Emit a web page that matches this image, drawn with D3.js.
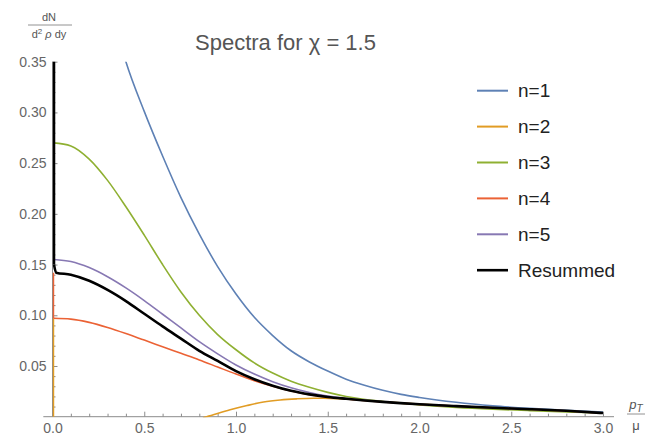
<!DOCTYPE html>
<html><head><meta charset="utf-8">
<script src="https://cdn.jsdelivr.net/npm/d3@7"></script>
<style>
html,body{margin:0;padding:0;background:#fff;}
svg{display:block;font-family:"Liberation Sans",Arial,sans-serif;}
</style></head>
<body><svg id="c" width="646" height="437"></svg>
<script>
// ---- data ----
const title = "Spectra for \u03C7 = 1.5";
const seriesNames = ["n=1","n=2","n=3","n=4","n=5","Resummed"];
const seriesColors = ["#5E81B5","#E19C24","#8FB032","#EB6235","#8778B3","#000000"];

const n1X = [0.38,0.4,0.5,0.6,0.7,0.8,0.9,1.0,1.1,1.2,1.3,1.4,1.5,1.6,1.7,1.8,1.9,2.0,2.2,2.4,2.6,2.8,3.0];
const n1Y = [0.362,0.35,0.301,0.257,0.216,0.180,0.148,0.121,0.098,0.080,0.065,0.054,0.045,0.037,0.031,0.026,0.022,0.019,0.0142,0.0107,0.0082,0.0062,0.0045];

const n2X = [0.005,0.005,null,0.82,0.84,0.968,1.06,1.15,1.241,1.33,1.423,1.51,1.605,1.7,1.787,2.0,2.25,2.5,2.75,3.0];
const n2Y = [0.0,0.097,null,-0.001,0.0,0.0068,0.011,0.0145,0.0165,0.0176,0.0182,0.0181,0.0175,0.0162,0.0150,0.0124,0.0101,0.0082,0.006,0.0038];

const n3X = [0.005,0.1,0.2,0.3,0.4,0.5,0.6,0.7,0.8,0.9,1.0,1.1,1.2,1.3,1.4,1.5,1.6,1.8,2.0,2.2,2.4,2.6,2.8,3.0];
const n3Y = [0.270,0.267,0.254,0.233,0.207,0.179,0.150,0.123,0.100,0.081,0.066,0.053,0.043,0.035,0.029,0.024,0.020,0.0150,0.0117,0.0092,0.0074,0.006,0.0047,0.0036];

const n4X = [0.005,0.005,0.1,0.2,0.3,0.4,0.5,0.6,0.7,0.8,0.9,1.0,1.1,1.2,1.3,1.4,1.5,1.6,1.8,2.0,2.2,2.4,2.6,2.8,3.0];
const n4Y = [0.142,0.097,0.0962,0.093,0.088,0.082,0.0755,0.069,0.0625,0.056,0.049,0.042,0.0355,0.030,0.0253,0.0217,0.0193,0.0175,0.0145,0.0121,0.0103,0.0087,0.0073,0.0057,0.0035];

const n5X = [0.008,0.1,0.2,0.3,0.4,0.5,0.6,0.7,0.8,0.9,1.0,1.1,1.2,1.3,1.4,1.5,1.6,1.8,2.0,2.2,2.4,2.6,2.8,3.0];
const n5Y = [0.155,0.153,0.147,0.138,0.127,0.1145,0.101,0.0875,0.074,0.062,0.051,0.042,0.0345,0.0285,0.0238,0.0203,0.0179,0.0147,0.0123,0.0104,0.0088,0.0074,0.0058,0.0036];

const resX = [0.008,0.008,0.02,0.1,0.2,0.3,0.4,0.5,0.6,0.7,0.8,0.9,1.0,1.1,1.2,1.3,1.4,1.5,1.6,1.8,2.0,2.2,2.4,2.6,2.8,3.0];
const resY = [0.36,0.150,0.142,0.140,0.134,0.125,0.114,0.1015,0.089,0.077,0.065,0.055,0.045,0.037,0.0305,0.0255,0.022,0.0195,0.0177,0.0146,0.0122,0.0104,0.0088,0.0074,0.0058,0.0036];

const xTickValues = [0,0.5,1,1.5,2,2.5,3];
const xTickLabels = ["0.0","0.5","1.0","1.5","2.0","2.5","3.0"];
const yTickValues = [0.05,0.10,0.15,0.20,0.25,0.30,0.35];
const yTickLabels = ["0.05","0.10","0.15","0.20","0.25","0.30","0.35"];

// ---- drawing ----
const svg = d3.select("#c");
const x = d3.scaleLinear().domain([0,3]).range([52.5,603]);
const y = d3.scaleLinear().domain([0,0.35]).range([416.7,61.7]);
const axisCol = "#8c8c8c", labCol = "#666";

svg.append("clipPath").attr("id","clip").append("rect")
  .attr("x", x(0)).attr("y", y(0.35)).attr("width", x(3.06)-x(0)).attr("height", y(0)-y(0.35)+0.5);

const xMinor = d3.range(0,3.0001,0.1).filter(v=>Math.abs(v*2-Math.round(v*2))>1e-6);
const yMinor = d3.range(0.01,0.3501,0.01).filter(v=>Math.abs(v*20-Math.round(v*20))>1e-6);

const gx = svg.append("g").attr("transform",`translate(0,${y(0)})`);
gx.call(d3.axisBottom(x).tickValues(xMinor).tickSize(-3).tickFormat(""));
gx.select(".domain").remove();
const gx2 = svg.append("g").attr("transform",`translate(0,${y(0)})`);
gx2.call(d3.axisBottom(x).tickValues(xTickValues).tickSize(-5).tickPadding(6)
  .tickFormat((d,i)=>xTickLabels[i]));
gx2.select(".domain").remove();
svg.append("line").attr("x1",x(-0.05)).attr("x2",x(3.06)).attr("y1",y(0)).attr("y2",y(0))
  .attr("stroke",axisCol).attr("stroke-width",1);

const gy = svg.append("g").attr("transform",`translate(${x(0)},0)`);
gy.call(d3.axisLeft(y).tickValues(yMinor).tickSize(-3).tickFormat(""));
gy.select(".domain").remove();
const gy2 = svg.append("g").attr("transform",`translate(${x(0)},0)`);
gy2.call(d3.axisLeft(y).tickValues(yTickValues).tickSize(-5).tickPadding(6)
  .tickFormat((d,i)=>yTickLabels[i]));
gy2.select(".domain").remove();
svg.append("line").attr("x1",x(0)).attr("x2",x(0)).attr("y1",y(0)).attr("y2",y(0.35))
  .attr("stroke",axisCol).attr("stroke-width",1);

svg.selectAll(".tick line").attr("stroke",axisCol);
svg.selectAll(".tick text").attr("fill",labCol).attr("font-size",14)
  .attr("font-family","'Liberation Sans',Arial,sans-serif");

// lines
const series = [[n1X,n1Y],[n2X,n2Y],[n3X,n3Y],[n4X,n4Y],[n5X,n5Y],[resX,resY]];
const smooth = d3.line().x(d=>x(d[0])).y(d=>y(d[1])).curve(d3.curveMonotoneX);
const straight = d3.line().x(d=>x(d[0])).y(d=>y(d[1]));
const plot = svg.append("g").attr("clip-path","url(#clip)");
[1,0,2,3,4,5].forEach(i=>{
  const [xs,ys] = series[i];
  const sw = i===5?2.6:1.6;
  let segs=[], cur=[];
  xs.forEach((v,k)=>{ if(v===null){ if(cur.length) segs.push(cur); cur=[]; } else cur.push([v,ys[k]]); });
  if(cur.length) segs.push(cur);
  segs.forEach(s=>{
    let k=0; while(k+1<s.length && s[k+1][0]===s[0][0]) k++;
    if(k>0) plot.append("path").attr("d",straight(s.slice(0,k+1)))
      .attr("fill","none").attr("stroke",seriesColors[i]).attr("stroke-width",sw);
    const rest = s.slice(k);
    if(rest.length>1) plot.append("path").attr("d",smooth(rest))
      .attr("fill","none").attr("stroke",seriesColors[i]).attr("stroke-width",sw)
      .attr("stroke-linejoin","round");
  });
});

// title
svg.append("text").attr("x",285.5).attr("y",50).attr("text-anchor","middle")
  .attr("font-size",22).attr("fill","#555").text(title);

// y label (fraction)
const yl = svg.append("g").attr("fill","#555").attr("font-size",11);
yl.append("text").attr("x",49).attr("y",21).attr("text-anchor","middle").text("dN");
yl.append("line").attr("x1",28).attr("x2",72).attr("y1",25).attr("y2",25).attr("stroke","#777").attr("stroke-width",0.8);
const yb = yl.append("text").attr("x",49).attr("y",38).attr("text-anchor","middle");
yb.append("tspan").text("d");
yb.append("tspan").attr("dy",-4).attr("font-size",8).text("2");
yb.append("tspan").attr("dy",4).text(" ");
yb.append("tspan").attr("font-style","italic").text("\u03C1");
yb.append("tspan").text(" dy");

// x label (fraction)
const xl = svg.append("g").attr("fill","#555").attr("font-size",13);
const xt = xl.append("text").attr("x",636).attr("y",409).attr("text-anchor","middle");
xt.append("tspan").attr("font-style","italic").text("p");
xt.append("tspan").attr("font-style","italic").attr("font-size",10).attr("dy",3).text("T");
xl.append("line").attr("x1",627).attr("x2",645).attr("y1",414).attr("y2",414).attr("stroke","#777").attr("stroke-width",0.8);
xl.append("text").attr("x",636).attr("y",430).attr("text-anchor","middle").text("\u03BC");

// legend
const lg = svg.append("g");
seriesNames.forEach((nm,i)=>{
  const cy = 90.7 + i*35.9;
  lg.append("line").attr("x1",477).attr("x2",508).attr("y1",cy).attr("y2",cy)
    .attr("stroke",seriesColors[i]).attr("stroke-width",i===5?2.6:2);
  lg.append("text").attr("x",518).attr("y",cy+6.5).attr("font-size",19).attr("fill","#222").text(nm);
});
</script></body></html>
